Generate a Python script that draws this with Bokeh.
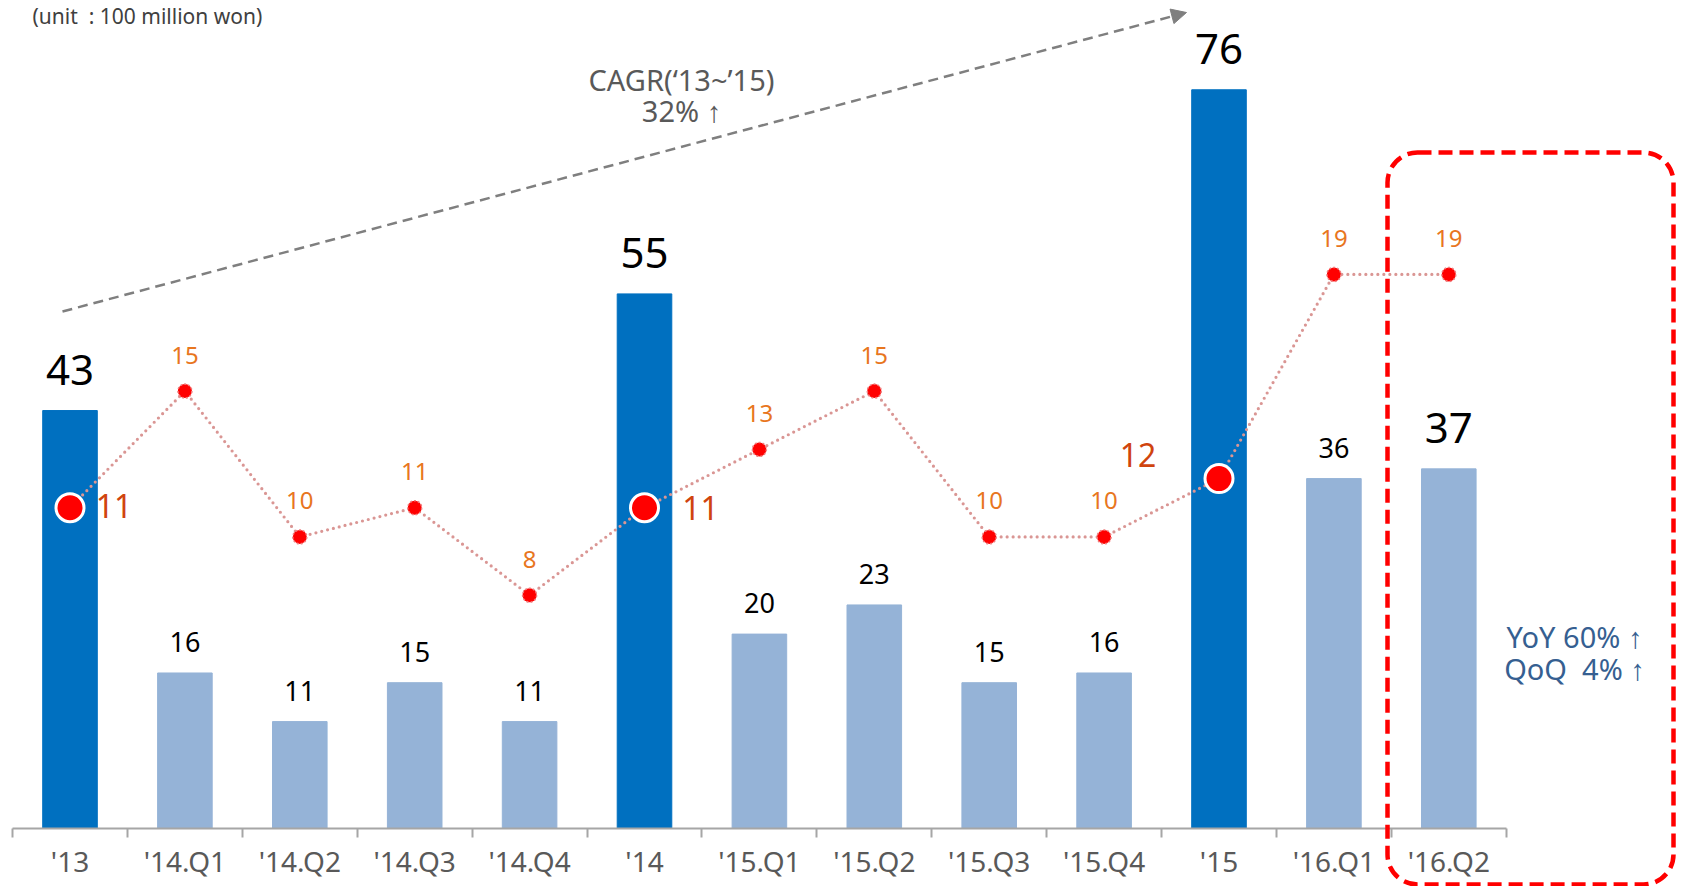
from bokeh.plotting import figure
from bokeh.models import (ColumnDataSource, Range1d, FixedTicker, BoxAnnotation,
                          Arrow, NormalHead, Label)
from bokeh.core.properties import value, field
from bokeh.embed import file_html
from bokeh.resources import INLINE

# ---------------- data ----------------
categories = ["'13", "'14.Q1", "'14.Q2", "'14.Q3", "'14.Q4", "'14",
              "'15.Q1", "'15.Q2", "'15.Q3", "'15.Q4", "'15", "'16.Q1", "'16.Q2"]
sales = [43, 16, 11, 15, 11, 55, 20, 23, 15, 16, 76, 36, 37]
profit = [11, 15, 10, 11, 8, 11, 13, 15, 10, 10, 12, 19, 19]
annual = [True, False, False, False, False, True,
          False, False, False, False, True, False, False]
highlight = "'16.Q2"

# ---------------- styles ----------------
FONT = "Noto Sans"
DARK_BLUE = "#0070C0"
LIGHT_BLUE = "#95B3D7"
LINE_PINK = "#DA9694"
ORANGE = "#E8761E"
RED_BROWN = "#D0440E"
GRAY_TXT = "#595959"
NB = "\u00a0"

W, H = 1676, 886
# pixel geometry helpers (canvas px -> data), used only for annotations
X0, CW, AX_Y, PPU = 69.5, 114.9, 828.0, 9.72
def dx(px):
    return (px - X0) / CW
def dy(py):
    return (AX_Y - py) / PPU

xs = list(range(len(categories)))
y0, y1 = dy(H), dy(0)

p = figure(width=W, height=H, output_backend="svg", toolbar_location=None,
           x_range=Range1d(dx(0), dx(W)), y_range=Range1d(y0, y1),
           y_axis_location=None, min_border_left=0, min_border_right=0,
           min_border_top=0, min_border_bottom=0)
p.extra_y_ranges = {"profit": Range1d(y0 / 3.0, y1 / 3.0)}
p.grid.visible = False
p.outline_line_color = None
p.background_fill_color = "white"
p.border_fill_color = "white"

ax = p.xaxis[0]
ax.fixed_location = 0
ax.ticker = FixedTicker(ticks=xs, minor_ticks=[i - 0.5 for i in range(len(categories) + 1)])
ax.major_label_overrides = {i: c for i, c in enumerate(categories)}
ax.bounds = (-0.5, len(categories) - 0.5)
ax.axis_line_color = "#A6A6A6"
ax.axis_line_width = 2
ax.major_tick_line_color = None
ax.major_tick_out = 0
ax.major_tick_in = 0
ax.minor_tick_line_color = "#A6A6A6"
ax.minor_tick_line_width = 2
ax.minor_tick_out = 9
ax.minor_tick_in = 0
ax.major_label_standoff = 4
ax.major_label_text_font = FONT
ax.major_label_text_font_size = "28px"
ax.major_label_text_color = GRAY_TXT

# ---------------- bars ----------------
big = [a or c == highlight for a, c in zip(annual, categories)]
bar_src = ColumnDataSource(dict(
    x=xs, top=sales,
    color=[DARK_BLUE if a else LIGHT_BLUE for a in annual],
    text=[str(v) for v in sales],
    size=["42px" if b else "27px" for b in big],
    yo=[-41 if b else -31 for b in big],
))
p.vbar(x="x", top="top", width=0.475, color="color", source=bar_src)
p.text(x="x", y="top", text="text", source=bar_src, text_font=value(FONT),
       text_font_size=field("size"), text_color="black", text_align="center",
       text_baseline="middle", y_offset="yo")

# ---------------- profit line ----------------
line_src = ColumnDataSource(dict(x=xs, y=profit))
p.line(x="x", y="y", source=line_src, y_range_name="profit", line_color=LINE_PINK,
       line_width=3.2, line_dash="0 6", line_cap="round")

q_idx = [i for i, a in enumerate(annual) if not a]
a_idx = [i for i, a in enumerate(annual) if a]
q_src = ColumnDataSource(dict(x=[xs[i] for i in q_idx], y=[profit[i] for i in q_idx],
                              text=[str(profit[i]) for i in q_idx]))
a_offsets = {"'13": (44, -2), "'14": (56, 0), "'15": (-81, -24)}
a_src = ColumnDataSource(dict(x=[xs[i] for i in a_idx], y=[profit[i] for i in a_idx],
                              text=[str(profit[i]) for i in a_idx],
                              xo=[a_offsets[categories[i]][0] for i in a_idx],
                              yo=[a_offsets[categories[i]][1] for i in a_idx]))

p.scatter(x="x", y="y", source=q_src, y_range_name="profit", size=14,
          fill_color="#FF0000", line_color="#F08080", line_width=1.5, line_dash="2 2")
p.scatter(x="x", y="y", source=a_src, y_range_name="profit", size=28,
          fill_color="#FF0000", line_color="white", line_width=3)

p.text(x="x", y="y", text="text", source=q_src, y_range_name="profit",
       text_font=value(FONT), text_font_size="24px", text_color=ORANGE,
       text_align="center", text_baseline="middle", y_offset=-36)
p.text(x="x", y="y", text="text", source=a_src, y_range_name="profit",
       text_font=value(FONT), text_font_size="32px", text_color=RED_BROWN,
       text_align="center", text_baseline="middle", x_offset="xo", y_offset="yo")

# ---------------- annotations ----------------
p.add_layout(Arrow(end=NormalHead(size=15, fill_color="#7F7F7F", line_color="#7F7F7F"),
                   x_start=dx(62), y_start=dy(311), x_end=dx(1186), y_end=dy(12),
                   line_color="#7F7F7F", line_width=2.5, line_dash="10 6"))

p.add_layout(Label(x=dx(681), y=dy(79), text="CAGR(\u201813~\u201915)", text_font=FONT,
                   text_font_size="29px", text_color=GRAY_TXT, text_align="center",
                   text_baseline="middle"))
p.add_layout(Label(x=dx(681), y=dy(110), text="32% \u2191", text_font=FONT,
                   text_font_size="29px", text_color=GRAY_TXT, text_align="center",
                   text_baseline="middle"))

p.add_layout(Label(x=dx(32), y=dy(15), text="(unit" + NB + NB + ":" + NB + "100 million won)",
                   text_font=FONT, text_font_size="21px", text_color="#404040",
                   text_align="left", text_baseline="middle"))

p.add_layout(Label(x=dx(1574), y=dy(636), text="YoY 60% \u2191", text_font=FONT,
                   text_font_size="29px", text_color="#365F91", text_align="center",
                   text_baseline="middle"))
p.add_layout(Label(x=dx(1574), y=dy(668), text="QoQ" + NB + NB + "4% \u2191", text_font=FONT,
                   text_font_size="29px", text_color="#365F91", text_align="center",
                   text_baseline="middle"))

p.add_layout(BoxAnnotation(left=dx(1387), right=dx(1673), top=dy(152), bottom=dy(884),
                           fill_color=None, line_color="#FF0000", line_alpha=1.0,
                           line_width=4.5, line_dash="14 7", border_radius=30))

open("out.html", "w").write(file_html(p, INLINE))
